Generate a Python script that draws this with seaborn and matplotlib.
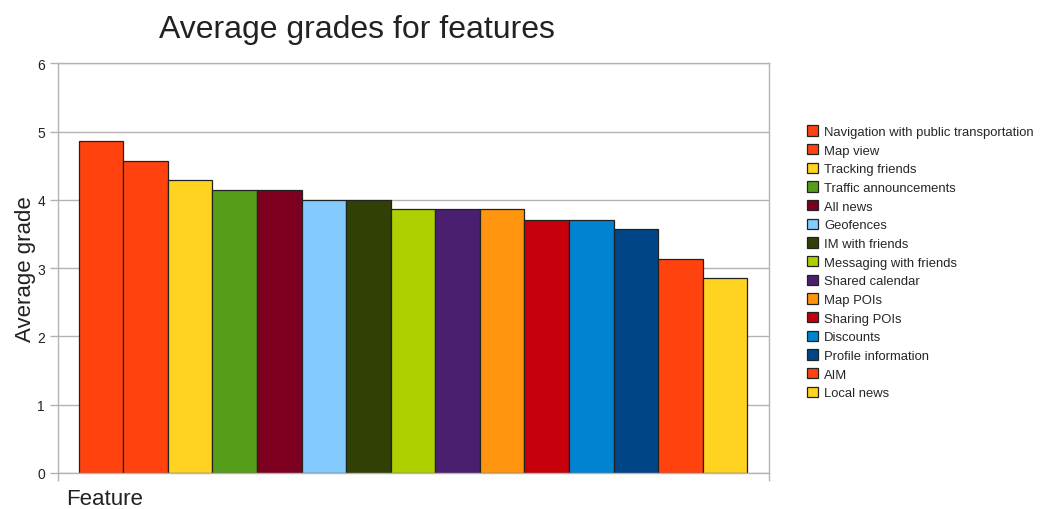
import matplotlib
matplotlib.use("Agg")
import matplotlib.pyplot as plt
import seaborn as sns
import pandas as pd

features = ["Navigation with public transportation", "Map view", "Tracking friends",
            "Traffic announcements", "All news", "Geofences", "IM with friends",
            "Messaging with friends", "Shared calendar", "Map POIs", "Sharing POIs",
            "Discounts", "Profile information", "AIM", "Local news"]
grades = [4.86, 4.57, 4.29, 4.14, 4.14, 4.00, 4.00, 3.86, 3.86, 3.86, 3.71, 3.71, 3.57, 3.14, 2.86]
colors = ["#FF420E", "#FF420E", "#FFD320", "#579D1C", "#7E0021", "#83CAFF", "#314004",
          "#AECF00", "#4B1F6F", "#FF950E", "#C5000B", "#0084D1", "#004586", "#FF420E", "#FFD320"]
category = "Feature"
yticks = [0, 1, 2, 3, 4, 5, 6]

sns.set_style("white")
plt.rcParams['font.family'] = ['Liberation Sans', 'DejaVu Sans']

df = pd.DataFrame({"cat": [category] * len(features), "feature": features, "grade": grades})

fig = plt.figure(figsize=(10.41, 5.10), dpi=100)
ax = fig.add_axes([57.5 / 1041, 1 - 474 / 510, (768.5 - 57.5) / 1041, (474 - 64.3) / 510])

sns.barplot(data=df, x="cat", y="grade", hue="feature", hue_order=features,
            palette=colors, width=0.94, dodge=True, edgecolor="#222222", linewidth=0.9,
            saturation=1, ax=ax, legend=True, errorbar=None)

ax.set_ylim(0, 6)
ax.set_xlim(-0.5, 0.5)
ax.set_yticks(yticks)
ax.set_yticklabels([str(t) for t in yticks], fontsize=10, color="#222222")
ax.yaxis.grid(True, color="#B3B3B3", linewidth=1)
ax.set_axisbelow(True)
for s in ax.spines.values():
    s.set_color("#B3B3B3")
    s.set_linewidth(1)
ax.tick_params(axis="y", direction="out", length=6, width=1, color="#B3B3B3", left=True, pad=3)
ax.set_xticks([-0.5, 0.5])
ax.set_xticklabels(["", ""])
ax.tick_params(axis="x", direction="out", length=6, width=1, color="#B3B3B3", bottom=True)
ax.set_xlabel("")
ax.set_ylabel("Average grade", fontsize=16, color="#222222", labelpad=1)

fig.text(357 / 1041, 1 - 30 / 510, "Average grades for features", fontsize=23,
         ha="center", va="center", color="#222222")
fig.text(105 / 1041, 1 - 500 / 510, category, fontsize=16, ha="center", va="center", color="#222222")

handles, labels = ax.get_legend_handles_labels()
ax.legend(handles, labels, loc="upper left", bbox_to_anchor=(802 / 1041, 1 - 121 / 510),
          bbox_transform=fig.transFigure, frameon=False, fontsize=9.4,
          handlelength=0.85, handleheight=0.85, handletextpad=0.45, labelspacing=0.455,
          borderaxespad=0)

fig.savefig("out.png", dpi=100)
